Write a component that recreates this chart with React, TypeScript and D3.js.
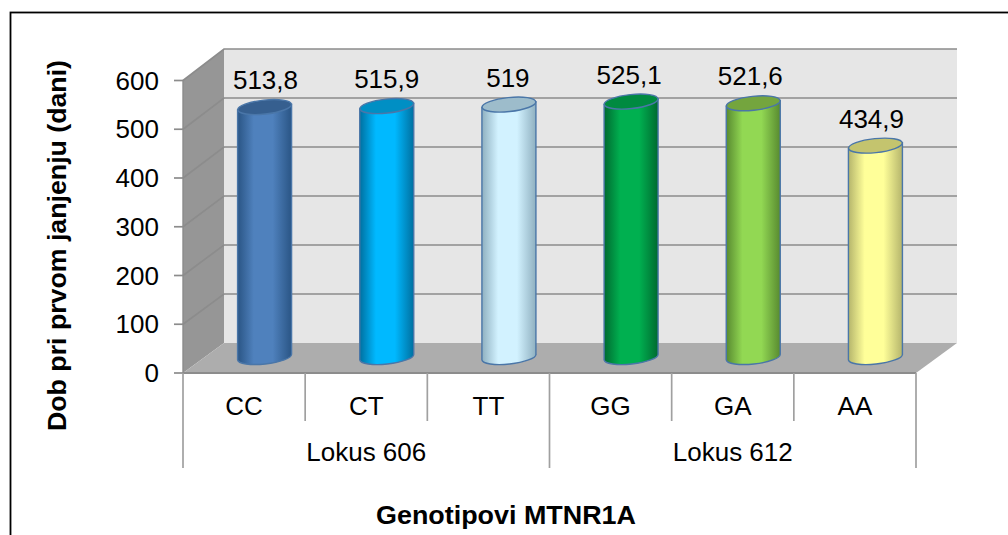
import React from "react";
import * as d3 from "d3";

const genotypes = ["CC", "CT", "TT", "GG", "GA", "AA"];
const values = [513.8, 515.9, 519, 525.1, 521.6, 434.9];
const valueLabels = ["513,8", "515,9", "519", "525,1", "521,6", "434,9"];
const loci = ["Lokus 606", "Lokus 612"];
const yTicks = [0, 100, 200, 300, 400, 500, 600];
const centerColors = ["#4f81bd", "#00b9ff", "#d2f2ff", "#00b050", "#92d853", "#ffff99"];
const edgeColors = ["#2a5585", "#0070a0", "#8fb0c0", "#006a30", "#588a30", "#b5b56c"];
const topColors = ["#365f8f", "#008fc4", "#9dbccb", "#008a40", "#74a53e", "#c4c46e"];

const W = 1008, H = 535;
const front = { x0: 183, x1: 916, y0: 373, y1: 80.5 };
const dx = 41, dy = -30;
const yFront = d3.scaleLinear().domain([0, 600]).range([front.y0, front.y1]);
const yBack = d3.scaleLinear().domain([0, 600]).range([front.y0 + dy, 49]);
const yBar = d3.scaleLinear().domain([0, 600]).range([358, 65]);
const xBand = d3.scaleBand<string>().domain(genotypes).range([front.x0, front.x1]);
const xLabel = d3.scalePoint<string>().domain(genotypes).range([265.5, 871.5]);
const barW = 54;
const barCx = (g: string) => xBand(g)! + xBand.bandwidth() / 2 + 20.5;
const font = "Arial, 'Liberation Sans', sans-serif";
const poly = (p: number[][]) => p.map((q) => q.join(",")).join(" ");

export default function App() {
  const axis = "#8c8c8c";
  const bw = xBand.bandwidth();
  return (
    <svg width={W} height={H} style={{ position: "absolute", left: 0, top: 0, fontFamily: font }}>
      <defs>
        {genotypes.map((g, i) => (
          <linearGradient key={g} id={`b${i}`} x1="0" x2="1" y1="0" y2="0">
            <stop offset="0" stopColor={edgeColors[i]} />
            <stop offset="0.3" stopColor={centerColors[i]} />
            <stop offset="0.65" stopColor={centerColors[i]} />
            <stop offset="1" stopColor={edgeColors[i]} />
          </linearGradient>
        ))}
      </defs>
      <rect x={10.5} y={12.5} width={1010} height={540} fill="#fff" stroke="#000" strokeWidth={1.8} />
      {/* back wall */}
      <rect x={front.x0 + dx} y={yBack(600)} width={front.x1 - front.x0} height={yBack(0) - yBack(600)} fill="#e6e6e6" />
      {/* side wall */}
      <polygon
        points={poly([[front.x0, yFront(600)], [front.x0 + dx, yBack(600)], [front.x0 + dx, yBack(0)], [front.x0, yFront(0)]])}
        fill="#969696"
      />
      {/* floor */}
      <polygon
        points={poly([[front.x0, yFront(0)], [front.x0 + dx, yBack(0)], [front.x1 + dx, yBack(0)], [front.x1, yFront(0)]])}
        fill="#adadad"
      />
      {yTicks.map((t) => (
        <g key={t} stroke={axis} strokeWidth={1.7} fill="none">
          {t > 0 && <polyline points={poly([[front.x0, yFront(t)], [front.x0 + dx, yBack(t)], [front.x1 + dx, yBack(t)]])} />}
          <line x1={front.x0 - 9} x2={front.x0} y1={yFront(t)} y2={yFront(t)} />
        </g>
      ))}
      <line x1={front.x0} x2={front.x0} y1={yFront(0)} y2={yFront(600)} stroke={axis} strokeWidth={1.4} />
      <line x1={front.x0} x2={front.x1} y1={yFront(0)} y2={yFront(0)} stroke={axis} strokeWidth={2} />
      {yTicks.map((t) => (
        <text key={t} x={159} y={yFront(t) + 9} textAnchor="end" fontSize={26} fill="#000">{t}</text>
      ))}
      {/* category separators */}
      {[...genotypes.map((g) => xBand(g)!), front.x1].map((x, i) => {
        const long = i % 3 === 0;
        return <line key={i} x1={x} x2={x} y1={yFront(0)} y2={long ? 468 : 421} stroke="#a0a0a0" strokeWidth={1.7} />;
      })}
      {genotypes.map((g) => (
        <text key={g} x={xBand(g)! + bw / 2} y={415} textAnchor="middle" fontSize={26} fill="#000">{g}</text>
      ))}
      {loci.map((l, i) => (
        <text key={l} x={xBand(genotypes[i * 3])! + bw * 1.5} y={461} textAnchor="middle" fontSize={26} fill="#000">{l}</text>
      ))}
      {/* bars */}
      {genotypes.map((g, i) => {
        const cx = barCx(g);
        const top = yBar(values[i]);
        const base = yBar(0) - 1;
        const rx = barW / 2;
        const ry = 7;
        const tilt = 6;
        const off = rx * Math.sin((tilt * Math.PI) / 180);
        const d = `M${cx - rx},${top + off} L${cx - rx},${base + off} A${rx},${ry} ${-tilt} 0 0 ${cx + rx},${base - off} L${cx + rx},${top - off} Z`;
        return (
          <g key={g}>
            <path d={d} fill={`url(#b${i})`} stroke="#4a76a8" strokeWidth={1.4} />
            <ellipse cx={cx} cy={top} rx={rx} ry={ry} transform={`rotate(${-tilt} ${cx} ${top})`} fill={topColors[i]} stroke="#4a76a8" strokeWidth={1.4} />
            <text x={xLabel(g)} y={top - 18} textAnchor="middle" fontSize={26} fill="#000">{valueLabels[i]}</text>
          </g>
        );
      })}
      <text x={506} y={524} textAnchor="middle" fontSize={26} fontWeight="bold" fill="#000" textLength={260} lengthAdjust="spacingAndGlyphs">Genotipovi MTNR1A</text>
      <text transform="translate(66,245.5) rotate(-90)" textAnchor="middle" fontSize={26} fontWeight="bold" fill="#000" textLength={371} lengthAdjust="spacingAndGlyphs">Dob pri prvom janjenju (dani)</text>
    </svg>
  );
}
